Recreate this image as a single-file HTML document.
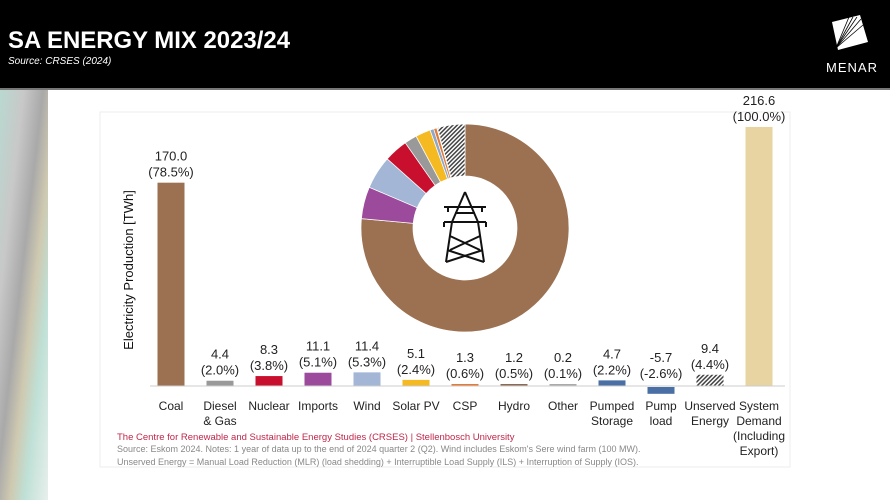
<!DOCTYPE html>
<html><head><meta charset="utf-8"><style>
html,body{margin:0;padding:0;width:890px;height:500px;overflow:hidden;background:#fff;font-family:"Liberation Sans",sans-serif}
</style></head><body>
<svg width="890" height="500" viewBox="0 0 890 500" xmlns="http://www.w3.org/2000/svg" font-family="Liberation Sans, sans-serif">
<defs>
<linearGradient id="lb" x1="0" y1="0" x2="1" y2="1">
<stop offset="0" stop-color="#b9d9d0"/><stop offset="0.25" stop-color="#c8c8c8"/><stop offset="0.45" stop-color="#a9a9a9"/><stop offset="0.6" stop-color="#cfc9b0"/><stop offset="0.75" stop-color="#bfe0d6"/><stop offset="1" stop-color="#e8efec"/>
</linearGradient>
<pattern id="hat" width="3" height="3" patternUnits="userSpaceOnUse" patternTransform="rotate(45)">
<rect width="3" height="3" fill="#fff"/><rect width="1.5" height="3" fill="#444"/>
</pattern>
</defs>
<rect x="0" y="0" width="890" height="88" fill="#000"/>
<rect x="0" y="88" width="890" height="2" fill="#777"/>
<text x="8" y="48" fill="#fff" font-size="24" font-weight="bold" textLength="282" lengthAdjust="spacingAndGlyphs">SA ENERGY MIX 2023/24</text>
<text x="8" y="64" fill="#fff" font-size="10" font-style="italic">Source: CRSES (2024)</text>
<polygon points="832,22 860,15 868,42 838,50" fill="#fff"/>
<g stroke="#000" stroke-width="0.8"><line x1="836" y1="48" x2="849" y2="17"/><line x1="836" y1="48" x2="853" y2="17"/><line x1="836" y1="48" x2="857" y2="17"/><line x1="836" y1="48" x2="861" y2="19"/><line x1="836" y1="48" x2="863" y2="25"/></g>
<text x="852" y="72" fill="#fff" font-size="13" text-anchor="middle" letter-spacing="1">MENAR</text>
<rect x="0" y="90" width="48" height="410" fill="url(#lb)"/>
<rect x="100" y="112" width="690" height="355" fill="#fff" stroke="#eee"/>
<text transform="translate(133,270) rotate(-90)" font-size="13" text-anchor="middle" fill="#111">Electricity Production [TWh]</text>
<g id="donut"></g>
<g id="bars"></g>
<line x1="150" y1="386" x2="785" y2="386" stroke="#ccc"/>
<g font-size="12" fill="#222" text-anchor="middle" id="cats"></g>
<text x="117" y="440" font-size="9.5" fill="#c0264a">The Centre for Renewable and Sustainable Energy Studies (CRSES) | Stellenbosch University</text>
<text x="117" y="452" font-size="9" fill="#888">Source: Eskom 2024. Notes: 1 year of data up to the end of 2024 quarter 2 (Q2). Wind includes Eskom's Sere wind farm (100 MW).</text>
<text x="117" y="465" font-size="9" fill="#888">Unserved Energy = Manual Load Reduction (MLR) (load shedding) + Interruptible Load Supply (ILS) + Interruption of Supply (IOS).</text>
</svg>
<script>
var NS="http://www.w3.org/2000/svg";
function el(t,a,p,txt){var e=document.createElementNS(NS,t);for(var k in a)e.setAttribute(k,a[k]);if(txt!=null)e.textContent=txt;p.appendChild(e);return e;}
var bars=[["Coal",170.0,"78.5%","#9b7152"],["Diesel\n& Gas",4.4,"2.0%","#999"],["Nuclear",8.3,"3.8%","#c8102e"],["Imports",11.1,"5.1%","#9b4a9c"],["Wind",11.4,"5.3%","#a3b6d6"],["Solar PV",5.1,"2.4%","#f5b921"],["CSP",1.3,"0.6%","#e07b39"],["Hydro",1.2,"0.5%","#8a6a55"],["Other",0.2,"0.1%","#aaa"],["Pumped\nStorage",4.7,"2.2%","#4a6fa5"],["Pump\nload",-5.7,"-2.6%","#4a6fa5"],["Unserved\nEnergy",9.4,"4.4%","url(#hat)"],["System\nDemand\n(Including\nExport)",216.6,"100.0%","#e8d4a2"]];
var g=document.getElementById("bars"),c=document.getElementById("cats"),k=1.196,base=386;
bars.forEach(function(b,i){var cx=171+49*i,h=Math.max(Math.abs(b[1])*k,2),y=b[1]>=0?base-h:base+1;
el("rect",{x:cx-13.5,y:y,width:27,height:h,fill:b[3]},g);
var top=b[1]>=0?base-h:base-2;
el("text",{x:cx,y:top-22,"font-size":13,"text-anchor":"middle",fill:"#222"},g,b[1].toFixed(1));
el("text",{x:cx,y:top-6,"font-size":13,"text-anchor":"middle",fill:"#222"},g,"("+b[2]+")");
b[0].split("\n").forEach(function(l,j){el("text",{x:cx,y:410+15*j},c,l);});});
var d=document.getElementById("donut"),seg=[[78.5,"#9b7152"],[5.1,"#9b4a9c"],[5.3,"#a3b6d6"],[3.8,"#c8102e"],[2.0,"#999"],[2.4,"#f5b921"],[0.6,"#8fa7c9"],[0.5,"#e07b39"],[0.1,"#aaa"],[4.4,"url(#hat)"]];
var tot=seg.reduce(function(s,x){return s+x[0]},0),a=0,cx=465,cy=228,R=104,r=52;
seg.forEach(function(s){var a0=a/tot*2*Math.PI,a1=(a+s[0])/tot*2*Math.PI;a+=s[0];
var p=function(rr,an){return (cx+rr*Math.sin(an)).toFixed(2)+","+(cy-rr*Math.cos(an)).toFixed(2)};var lg=(a1-a0)>Math.PI?1:0;
el("path",{d:"M"+p(R,a0)+"A"+R+","+R+" 0 "+lg+" 1 "+p(R,a1)+"L"+p(r,a1)+"A"+r+","+r+" 0 "+lg+" 0 "+p(r,a0)+"Z",fill:s[1],stroke:"#fff","stroke-width":0.7},d);});
var t=el("g",{stroke:"#111","stroke-width":2,fill:"none","stroke-linejoin":"round"},d);
el("path",{d:"M465,192 L452,222 L446,262 M465,192 L478,222 L484,262 M444,207 H486 M444,222 H486 M448,207 V212 M482,207 V212 M444,222 V227 M486,222 V227 M455,213 H475 M450,236 L480,250 M480,236 L450,250 M447,250 L484,262 M483,250 L446,262"},t);
</script>
</body></html>
